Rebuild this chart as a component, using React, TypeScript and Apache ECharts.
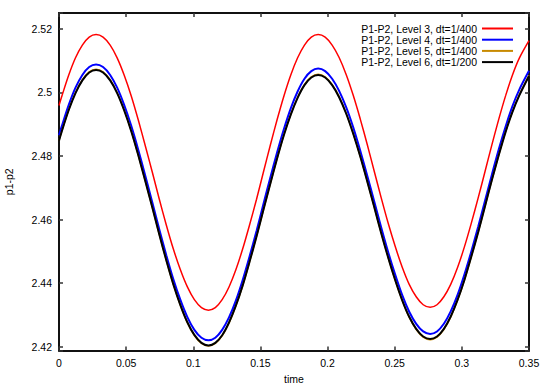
import React, { useEffect, useRef } from "react";
import * as echarts from "echarts";

const times = [
  0, 0.0021, 0.0072, 0.0123, 0.0174, 0.0225,
  0.0276, 0.0328, 0.0381, 0.0433, 0.0485, 0.0538, 0.059, 0.0642, 0.0695, 0.0747, 0.0799, 0.0851, 0.0904, 0.0956, 0.1008, 0.1061, 0.1113,
  0.1164, 0.1215, 0.1266, 0.1317, 0.1368, 0.1419, 0.1471, 0.1522, 0.1573, 0.1624, 0.1675, 0.1726, 0.1777, 0.1828, 0.1879, 0.193,
  0.1982, 0.2034, 0.2086, 0.2139, 0.2191, 0.2243, 0.2295, 0.2347, 0.2399, 0.2451, 0.2504, 0.2556, 0.2608, 0.266, 0.2712, 0.2764,
  0.2815, 0.2866, 0.2917, 0.2968, 0.3019, 0.307, 0.3122, 0.3173, 0.3224, 0.3275, 0.3326, 0.3377, 0.3428, 0.35,
];

const level3 = [
  2.4959, 2.4988, 2.5054, 2.5109, 2.5149, 2.5174,
  2.5182, 2.5174, 2.5149, 2.5109, 2.5055, 2.4989, 2.4914, 2.4833, 2.4749, 2.4664, 2.4583, 2.4508, 2.4442, 2.4388, 2.4348, 2.4323, 2.4315,
  2.4323, 2.4348, 2.4388, 2.4442, 2.4508, 2.4583, 2.4664, 2.4749, 2.4833, 2.4914, 2.4989, 2.5055, 2.5109, 2.5149, 2.5174, 2.5182,
  2.5174, 2.5149, 2.511, 2.5056, 2.4991, 2.4917, 2.4837, 2.4753, 2.4669, 2.4589, 2.4515, 2.445, 2.4396, 2.4357, 2.4332, 2.4324,
  2.4332, 2.4357, 2.4396, 2.4449, 2.4514, 2.4588, 2.4669, 2.4752, 2.4836, 2.4916, 2.499, 2.5055, 2.5108, 2.5163,
];

const level4 = [
  2.4865, 2.4894, 2.496, 2.5015, 2.5055, 2.508,
  2.5088, 2.508, 2.5055, 2.5015, 2.4961, 2.4895, 2.482, 2.4739, 2.4654, 2.4569, 2.4488, 2.4413, 2.4347, 2.4293, 2.4253, 2.4228, 2.422,
  2.4228, 2.4253, 2.4292, 2.4345, 2.441, 2.4484, 2.4564, 2.4648, 2.4731, 2.4811, 2.4885, 2.495, 2.5003, 2.5043, 2.5067, 2.5075,
  2.5067, 2.5043, 2.5005, 2.4953, 2.489, 2.4817, 2.4739, 2.4658, 2.4576, 2.4498, 2.4426, 2.4362, 2.431, 2.4272, 2.4248, 2.424,
  2.4248, 2.4272, 2.4311, 2.4363, 2.4427, 2.4499, 2.4578, 2.466, 2.4742, 2.4821, 2.4893, 2.4957, 2.5009, 2.5068,
];

const level5 = [
  2.4849, 2.4879, 2.4945, 2.5, 2.504, 2.5065,
  2.5073, 2.5065, 2.504, 2.5, 2.4945, 2.4879, 2.4803, 2.4722, 2.4638, 2.4553, 2.4472, 2.4396, 2.433, 2.4275, 2.4235, 2.421, 2.4202,
  2.421, 2.4234, 2.4274, 2.4328, 2.4392, 2.4467, 2.4547, 2.463, 2.4712, 2.4792, 2.4867, 2.4931, 2.4985, 2.5025, 2.5049, 2.5057,
  2.5049, 2.5025, 2.4987, 2.4934, 2.4871, 2.4799, 2.4721, 2.464, 2.4558, 2.4481, 2.4408, 2.4345, 2.4292, 2.4254, 2.423, 2.4222,
  2.423, 2.4254, 2.4293, 2.4346, 2.4409, 2.4483, 2.4561, 2.4643, 2.4725, 2.4803, 2.4877, 2.494, 2.4993, 2.5054,
];

const level6 = [
  2.4848, 2.4878, 2.4944, 2.4998, 2.5038, 2.5063,
  2.5071, 2.5063, 2.5038, 2.4998, 2.4944, 2.4878, 2.4803, 2.4722, 2.4638, 2.4553, 2.4472, 2.4397, 2.4331, 2.4277, 2.4237, 2.4212, 2.4204,
  2.4212, 2.4236, 2.4276, 2.4329, 2.4393, 2.4467, 2.4547, 2.463, 2.4712, 2.4792, 2.4866, 2.493, 2.4983, 2.5023, 2.5047, 2.5055,
  2.5047, 2.5023, 2.4985, 2.4933, 2.487, 2.4799, 2.4721, 2.464, 2.4558, 2.4481, 2.4409, 2.4346, 2.4294, 2.4256, 2.4232, 2.4224,
  2.4232, 2.4256, 2.4295, 2.4347, 2.441, 2.4483, 2.4561, 2.4643, 2.4725, 2.4803, 2.4876, 2.4939, 2.4991, 2.5052,
];

const seriesNames = [
  "P1-P2, Level 3, dt=1/400",
  "P1-P2, Level 4, dt=1/400",
  "P1-P2, Level 5, dt=1/400",
  "P1-P2, Level 6, dt=1/200",
];
const seriesValues = [level3, level4, level5, level6];
const seriesColors = ["#ff0000", "#0000ff", "#c88a00", "#000000"];
const seriesWidths = [1.5, 2, 1.5, 2];

const X_MIN = 0;
const X_MAX = 0.35;
const X_INTERVAL = 0.05;
const Y_MIN = 2.4188;
const Y_MAX = 2.525;
const Y_STEP = 0.02;

const FONT = "'Liberation Sans', Arial, Helvetica, sans-serif";

export default function App() {
  const ref = useRef<HTMLDivElement>(null);

  useEffect(() => {
    if (!ref.current) return;
    const chart = echarts.init(ref.current, undefined, { renderer: "svg" });

    const yLabel = (v: number) => {
      const k = v / Y_STEP;
      if (Math.abs(k - Math.round(k)) > 1e-6) return "";
      return String(+v.toFixed(4));
    };

    const borderLine = { show: true, onZero: false, lineStyle: { color: "#111", width: 2 } };
    const tick = { show: true, inside: true, length: 4, lineStyle: { color: "#333", width: 1.5 } };

    const option: any = {
      animation: false,
      backgroundColor: "#ffffff",
      textStyle: { fontFamily: FONT },
      grid: {
        left: 59,
        right: 21,
        top: 13,
        bottom: 34.5,
        containLabel: false,
        outerBoundsMode: "none",
        show: false,
      },
      legend: {
        orient: "vertical",
        right: 32,
        top: 18,
        align: "right",
        icon: "rect",
        itemWidth: 31,
        itemHeight: 2,
        itemGap: 0.2,
        textStyle: { fontFamily: FONT, fontSize: 10.5, color: "#000", lineHeight: 10 },
        data: seriesNames,
      },
      xAxis: [
        {
          type: "value",
          min: X_MIN,
          max: X_MAX,
          interval: X_INTERVAL,
          position: "bottom",
          name: "time",
          nameLocation: "middle",
          nameGap: 19.5,
          nameTextStyle: { fontFamily: FONT, fontSize: 10.5, color: "#000" },
          axisLine: borderLine,
          axisTick: tick,
          axisLabel: { fontFamily: FONT, fontSize: 10.5, color: "#000", margin: 7 },
          splitLine: { show: false },
        },
        {
          type: "value",
          min: X_MIN,
          max: X_MAX,
          interval: X_INTERVAL,
          position: "top",
          axisLine: borderLine,
          axisTick: tick,
          axisLabel: { show: false },
          splitLine: { show: false },
        },
      ],
      yAxis: [
        {
          type: "value",
          min: Y_MIN,
          max: Y_MAX,
          position: "left",
          name: "p1-p2",
          nameLocation: "middle",
          nameGap: 45,
          nameRotate: 90,
          nameTextStyle: { fontFamily: FONT, fontSize: 10.5, color: "#000" },
          axisLine: borderLine,
          axisTick: tick,
          axisLabel: { fontFamily: FONT, fontSize: 10.5, color: "#000", margin: 7, formatter: yLabel },
          splitLine: { show: false },
        },
        {
          type: "value",
          min: Y_MIN,
          max: Y_MAX,
          position: "right",
          axisLine: borderLine,
          axisTick: tick,
          axisLabel: { show: false },
          splitLine: { show: false },
        },
      ],
      series: seriesNames.map((name, s) => ({
        name,
        type: "line",
        xAxisIndex: 0,
        yAxisIndex: 0,
        showSymbol: false,
        symbol: "none",
        smooth: 0.3,
        color: seriesColors[s],
        lineStyle: { color: seriesColors[s], width: seriesWidths[s] },
        data: times.map((t, i) => [t, seriesValues[s][i]]),
        z: 2 + s,
      })),
    };

    chart.setOption(option);
    return () => chart.dispose();
  }, []);

  return (
    <div
      ref={ref}
      style={{ position: "fixed", left: 0, top: 0, width: 550, height: 385, background: "#fff" }}
    />
  );
}
